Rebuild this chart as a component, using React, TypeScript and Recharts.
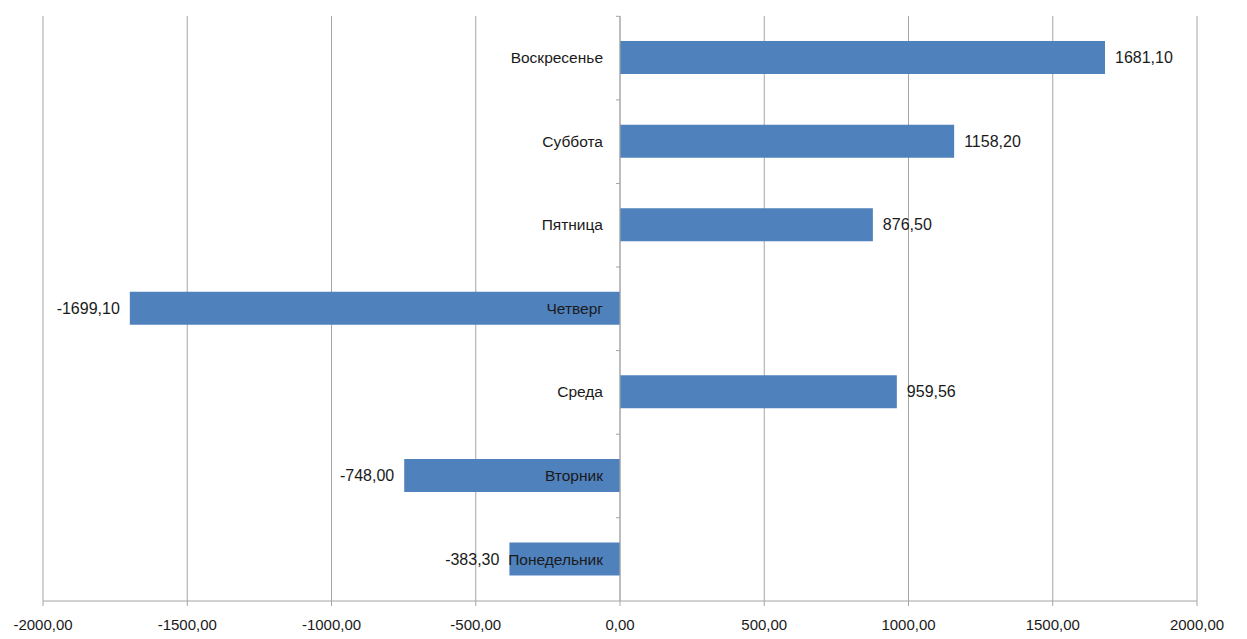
import React from "react"
import {
  BarChart,
  Bar,
  XAxis,
  YAxis,
  CartesianGrid,
  ReferenceLine,
  LabelList,
} from "recharts"

// Monday at the bottom, Sunday at the top (y axis is reversed)
const days = ["Понедельник", "Вторник", "Среда", "Четверг", "Пятница", "Суббота", "Воскресенье"]
const values = [-383.3, -748.0, 959.56, -1699.1, 876.5, 1158.2, 1681.1]
const xTicks = [-2000, -1500, -1000, -500, 0, 500, 1000, 1500, 2000]

const data = days.map((day, i) => ({ day, value: values[i] }))

const GRID = "#a6a6a6"
const BAR = "#4f81bd"
const TEXT = "#1a1a1a"
const FONT = "'Liberation Sans', Arial, sans-serif"
const GAP = 0.3 // barCategoryGap, as a fraction

const fmt = (v: number) => v.toFixed(2).replace(".", ",")

function BarLabels(props: any) {
  const { x, y, width, height, index } = props
  const v = values[index]
  const left = Math.min(x, x + width)
  const right = Math.max(x, x + width)
  const zeroX = v >= 0 ? left : right
  const cy = y + height / 2
  const band = Math.abs(height) / (1 - 2 * GAP)
  const bandTop = cy - band / 2
  return (
    <g>
      <line x1={zeroX - 4} x2={zeroX} y1={bandTop} y2={bandTop} stroke={GRID} />
      <text
        x={zeroX - 17}
        y={cy}
        textAnchor="end"
        dominantBaseline="central"
        fontSize={15.5}
        fontFamily={FONT}
        fill={TEXT}
      >
        {days[index]}
      </text>
      <text
        x={v >= 0 ? right + 10 : left - 10}
        y={cy}
        textAnchor={v >= 0 ? "start" : "end"}
        dominantBaseline="central"
        fontSize={16}
        fontFamily={FONT}
        fill={TEXT}
      >
        {fmt(v)}
      </text>
    </g>
  )
}

export default function App() {
  return (
    <BarChart
      width={1231}
      height={631}
      data={data}
      layout="vertical"
      margin={{ top: 8, right: 42, bottom: 0, left: 35 }}
      barCategoryGap="30%"
    >
      <CartesianGrid horizontal={false} stroke={GRID} />
      <XAxis
        type="number"
        domain={[-2000, 2000]}
        ticks={xTicks}
        tickFormatter={fmt}
        axisLine={{ stroke: GRID }}
        tickLine={{ stroke: GRID }}
        tickSize={5}
        tickMargin={13}
        height={38}
        interval={0}
        tick={{ fontSize: 15, fill: TEXT, fontFamily: FONT }}
      />
      <YAxis type="category" dataKey="day" reversed hide />
      <ReferenceLine x={0} stroke={GRID} />
      <Bar dataKey="value" fill={BAR} isAnimationActive={false}>
        <LabelList dataKey="value" content={BarLabels} />
      </Bar>
    </BarChart>
  )
}
